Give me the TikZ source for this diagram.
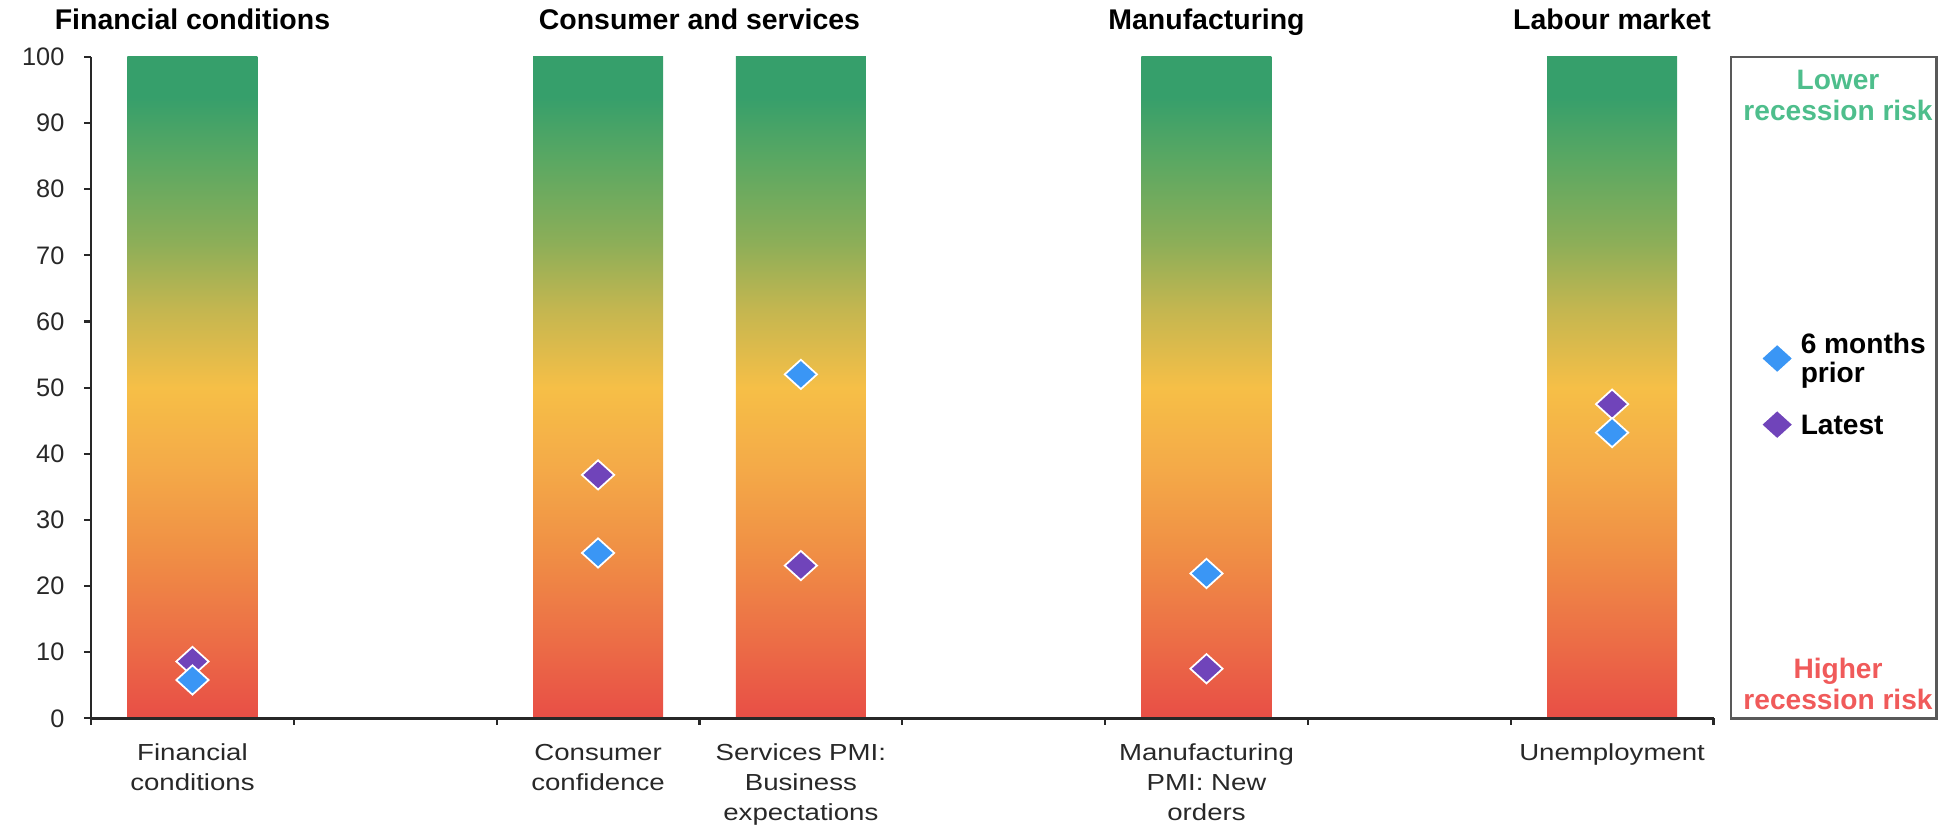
\documentclass[tikz,border=0pt]{standalone}
\usepackage{fontspec}
\setmainfont{Liberation Sans}
\newfontfamily\catfont[FakeStretch=1.19]{Liberation Sans}
\usetikzlibrary{shapes.geometric}

\definecolor{riskred}{RGB}{232,78,70}
\definecolor{riskorangered}{RGB}{236,110,70}
\definecolor{riskorange}{RGB}{240,145,69}
\definecolor{riskamber}{RGB}{244,170,72}
\definecolor{riskyellow}{RGB}{246,191,71}
\definecolor{riskolive}{RGB}{195,182,80}
\definecolor{risklime}{RGB}{140,174,88}
\definecolor{risklight}{RGB}{92,168,98}
\definecolor{riskgreen}{RGB}{54,159,107}
\definecolor{priorblue}{RGB}{58,150,245}
\definecolor{latestpurple}{RGB}{112,68,186}
\definecolor{lowgreen}{RGB}{78,190,140}
\definecolor{highred}{RGB}{240,90,90}
\definecolor{axisgray}{RGB}{40,40,40}

% value v sits at 25bp + v/2 bp
\pgfdeclareverticalshading{riskscale}{100bp}{color(0bp)=(riskred); color(25bp)=(riskred);
  color(31bp)=(riskorangered); color(38bp)=(riskorange); color(44bp)=(riskamber);
  color(50bp)=(riskyellow); color(56bp)=(riskolive); color(61bp)=(risklime);
  color(67bp)=(risklight); color(72bp)=(riskgreen); color(100bp)=(riskgreen)}

\tikzset{
  grouptitle/.style={font=\fontsize{8.1}{9}\selectfont\bfseries, anchor=base, inner sep=0pt},
  catlabel/.style={font=\catfont\fontsize{6.6}{8.5}\selectfont, align=center, anchor=north, inner sep=0pt, text=axisgray},
  ticklabel/.style={font=\fontsize{7.2}{8}\selectfont, anchor=east, inner sep=0pt, text=axisgray},
  prior/.style={diamond, fill=priorblue, draw=white, line width=0.5pt, inner sep=0pt, minimum width=0.33cm, minimum height=0.30cm},
  latest/.style={diamond, fill=latestpurple, draw=white, line width=0.5pt, inner sep=0pt, minimum width=0.33cm, minimum height=0.30cm},
  legendtext/.style={font=\fontsize{8}{8.3}\selectfont\bfseries, align=left, anchor=west, inner sep=0pt},
  risktext/.style={font=\fontsize{8}{8.8}\selectfont\bfseries, align=center, inner sep=0pt}
}

\begin{document}
\begin{tikzpicture}[x=2.028cm, y=0.06615cm]
    \useasboundingbox (-0.449,-16.1) rectangle (9.112,108.6);

    % Bars
    \foreach \xc in {0.5,2.5,3.5,5.5,7.5}
        \shade[shading=riskscale] (\xc-0.3205,0) rectangle (\xc+0.3205,100);

    % Axes
    \draw[axisgray, line width=0.7pt] (0,100) -- (0,0) -- (8,0);
    \foreach \v in {0,10,...,100} {
        \draw[axisgray, line width=0.6pt] (0,\v) -- ++(-0.07cm,0);
        \node[ticklabel] (tick\v) at (-0.128,\v) {\v};
    }
    \foreach \k in {0,...,8}
        \draw[axisgray, line width=0.6pt] (\k,0) -- ++(0,-0.07cm);

    % Group titles
    \node[grouptitle] (gfin) at (0.5,104.1) {Financial conditions};
    \node[grouptitle] (gcon) at (3.0,104.1) {Consumer and services};
    \node[grouptitle] (gman) at (5.5,104.1) {Manufacturing};
    \node[grouptitle] (glab) at (7.5,104.1) {Labour market};

    % Category labels
    \node[catlabel] (cfin) at (0.5,-3.8) {Financial\\conditions};
    \node[catlabel] (ccon) at (2.5,-3.8) {Consumer\\confidence};
    \node[catlabel] (cser) at (3.5,-3.8) {Services PMI:\\Business\\expectations};
    \node[catlabel] (cman) at (5.5,-3.8) {Manufacturing\\PMI: New\\orders};
    \node[catlabel] (clab) at (7.5,-3.8) {Unemployment};

    % Readings
    \node[latest] (finL) at (0.5,8.6) {};
    \node[prior] (finP) at (0.5,5.8) {};
    \node[latest] (conL) at (2.5,36.8) {};
    \node[prior] (conP) at (2.5,25.0) {};
    \node[prior] (serP) at (3.5,52.0) {};
    \node[latest] (serL) at (3.5,23.1) {};
    \node[prior] (manP) at (5.5,21.9) {};
    \node[latest] (manL) at (5.5,7.5) {};
    \node[latest] (labL) at (7.5,47.5) {};
    \node[prior] (labP) at (7.5,43.2) {};

    % Legend box
    \draw[gray!70!black, line width=0.7pt] (8.087,0) rectangle (9.10,100);
    \node[risktext, text=lowgreen] (lower) at (8.614,94.2) {Lower\\recession risk};
    \node[risktext, text=highred] (higher) at (8.614,5.2) {Higher\\recession risk};
    \node[prior] (keyP) at (8.314,54.4) {};
    \node[legendtext] (keyPtext) at (8.427,54.0) {6 months\\prior};
    \node[latest] (keyL) at (8.314,44.4) {};
    \node[legendtext] (keyLtext) at (8.427,44.4) {Latest};

\end{tikzpicture}
\end{document}
